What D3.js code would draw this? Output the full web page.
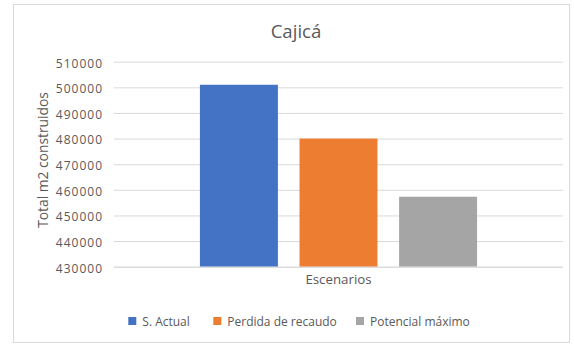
<!DOCTYPE html>
<html>
<head>
<meta charset="utf-8">
<script src="https://cdn.jsdelivr.net/npm/d3@7"></script>
<style>
  html, body { margin: 0; padding: 0; background: #fff; }
  svg { display: block; font-family: "Open Sans", "Noto Sans", sans-serif; }
</style>
</head>
<body>
<svg id="chart" width="574" height="346"></svg>
<script>
// Chart data
const title = "Cajicá";
const categories = ["Escenarios"];
const seriesNames = ["S. Actual", "Perdida de recaudo", "Potencial máximo"];
const seriesValues = [501000, 480000, 457300];
const seriesColors = ["#4472C4", "#ED7D31", "#A5A5A5"];
const yTicks = [430000, 440000, 450000, 460000, 470000, 480000, 490000, 500000, 510000];
const yTitle = "Total m2 construidos";

const svg = d3.select("#chart");
const W = 574, H = 346;

// Chart frame
svg.append("rect")
  .attr("x", 13.5).attr("y", 4.5)
  .attr("width", 556).attr("height", 338)
  .attr("fill", "#fff").attr("stroke", "#d9d9d9").attr("stroke-width", 1);

const plot = { left: 114, right: 563, top: 61.7, bottom: 266.7 };

const y = d3.scaleLinear()
  .domain([d3.min(yTicks), d3.max(yTicks)])
  .range([plot.bottom, plot.top]);

const x0 = d3.scaleBand()
  .domain(categories)
  .range([plot.left, plot.right])
  .paddingOuter(0.31);

const x1 = d3.scaleBand()
  .domain(seriesNames)
  .range([0, x0.bandwidth()])
  .paddingInner(0.217)
  .paddingOuter(0);

// Gridlines and value labels
const yAxis = d3.axisLeft(y).tickValues(yTicks).tickFormat(d3.format("d"))
  .tickSize(-(plot.right - plot.left)).tickPadding(11);
const gy = svg.append("g").attr("transform", `translate(${plot.left},0)`).call(yAxis);
gy.select(".domain").remove();
gy.selectAll(".tick line").attr("stroke", "#d9d9d9").attr("stroke-width", 1);
gy.selectAll(".tick text")
  .attr("fill", "#595959").attr("font-size", "12px")
  .attr("letter-spacing", "1px").attr("dy", "0.45em")
  .attr("font-family", "'Open Sans', sans-serif");

// Bars
const group = svg.append("g").selectAll("g")
  .data(categories).join("g")
  .attr("transform", d => `translate(${x0(d)},0)`);

group.selectAll("rect")
  .data(() => seriesNames.map((s, i) => ({ s, v: seriesValues[i], c: seriesColors[i] })))
  .join("rect")
  .attr("x", d => x1(d.s))
  .attr("width", x1.bandwidth())
  .attr("y", d => y(d.v))
  .attr("height", d => y(d3.min(yTicks)) - y(d.v))
  .attr("fill", d => d.c);

// Category axis
const xAxis = d3.axisBottom(x0).tickSize(0).tickPadding(8);
const gx = svg.append("g").attr("transform", `translate(0,${plot.bottom})`).call(xAxis);
gx.select(".domain").attr("stroke", "#d9d9d9").attr("d", `M${plot.left},0.5H${plot.right}`);
gx.selectAll(".tick text")
  .attr("fill", "#595959").attr("font-size", "13.3px")
  .attr("font-family", "'Open Sans', sans-serif");

// Titles
svg.append("text")
  .attr("x", 296).attr("y", 37.5)
  .attr("text-anchor", "middle")
  .attr("fill", "#595959").attr("font-size", "18.6px")
  .text(title);

svg.append("text")
  .attr("transform", "translate(47.5,160) rotate(-90)")
  .attr("text-anchor", "middle")
  .attr("fill", "#595959").attr("font-size", "13.8px")
  .text(yTitle);

// Legend
const legendX = [128.3, 213.3, 356];
const legend = svg.append("g").selectAll("g")
  .data(seriesNames).join("g")
  .attr("transform", (d, i) => `translate(${legendX[i]},317)`);
legend.append("rect")
  .attr("width", 8).attr("height", 8)
  .attr("fill", (d, i) => seriesColors[i]);
legend.append("text")
  .attr("x", 14).attr("y", 8.5)
  .attr("fill", "#595959").attr("font-size", "12px")
  .text(d => d);
</script>
</body>
</html>
